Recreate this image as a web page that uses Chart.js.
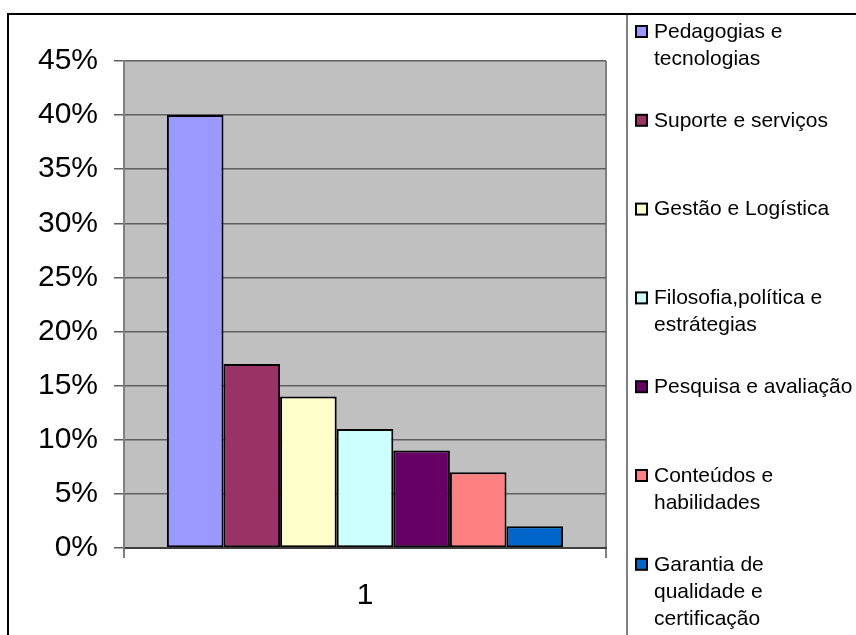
<!DOCTYPE html>
<html>
<head>
<meta charset="utf-8">
<title>Áreas</title>
<script src="https://cdn.jsdelivr.net/npm/chart.js@4/dist/chart.umd.min.js"></script>
<style>
  body { margin: 0; background: #fff; }
  canvas { display: block; }
</style>
</head>
<body>
<canvas id="myChart" width="856" height="635"></canvas>
<script>
const categories = ["1"];

const seriesNames = [
  ["Pedagogias e", "tecnologias"],
  ["Suporte e serviços"],
  ["Gestão e Logística"],
  ["Filosofia,política e", "estrátegias"],
  ["Pesquisa e avaliação"],
  ["Conteúdos e", "habilidades"],
  ["Garantia de", "qualidade e", "certificação"],
];

// percent for each area
const seriesValues = [40, 17, 14, 11, 9, 7, 2];

const seriesColors = [
  "#9999FF",
  "#993366",
  "#FFFFCC",
  "#CCFFFF",
  "#660066",
  "#FF8080",
  "#0066CC",
];

const yTicks = [0, 5, 10, 15, 20, 25, 30, 35, 40, 45];

const FONT = "'Liberation Sans', Arial, sans-serif";

// grey plot background + white page
const plotBg = {
  id: "plotBg",
  beforeDraw: (chart) => {
    const { ctx, chartArea, width, height } = chart;
    ctx.save();
    ctx.fillStyle = "#fff";
    ctx.fillRect(0, 0, width, height);
    ctx.fillStyle = "#C0C0C0";
    ctx.fillRect(chartArea.left, chartArea.top, chartArea.right - chartArea.left, chartArea.bottom - chartArea.top);
    ctx.restore();
  },
};

// outer frame, legend box and the legend itself
const sideLegend = {
  id: "sideLegend",
  afterDraw: (chart) => {
    const ctx = chart.ctx;
    ctx.save();
    ctx.strokeStyle = "#000";
    ctx.lineWidth = 2;
    ctx.strokeRect(8, 14, 900, 700);

    ctx.strokeStyle = "#808080";
    ctx.beginPath();
    ctx.moveTo(627, 15);
    ctx.lineTo(627, 635);
    ctx.stroke();

    ctx.font = "21px " + FONT;
    ctx.textBaseline = "middle";
    ctx.fillStyle = "#000";
    chart.data.datasets.forEach((ds, i) => {
      const y = 32 + i * 88.8;
      ctx.fillStyle = ds.backgroundColor;
      ctx.fillRect(636, y - 6, 11, 11);
      ctx.strokeStyle = "#000";
      ctx.lineWidth = 2;
      ctx.strokeRect(636, y - 6, 11, 11);
      ctx.fillStyle = "#000";
      ds.lines.forEach((line, k) => {
        ctx.fillText(line, 654, y + k * 27);
      });
    });
    ctx.restore();
  },
};

const ctx = document.getElementById("myChart");

new Chart(ctx, {
  type: "bar",
  data: {
    labels: categories,
    datasets: seriesNames.map((name, i) => ({
      label: name.join(" "),
      lines: name,
      data: [seriesValues[i]],
      backgroundColor: seriesColors[i],
      borderColor: "#000",
      borderWidth: 2,
      borderSkipped: false,
      barPercentage: 1,
      categoryPercentage: 0.822,
    })),
  },
  options: {
    responsive: false,
    animation: false,
    layout: { padding: { top: 61, right: 250, left: 0, bottom: 0 } },
    plugins: {
      legend: { display: false },
      tooltip: { enabled: false },
    },
    scales: {
      x: {
        grid: { color: "#808080", lineWidth: 2, tickLength: 10, offset: true },
        border: { color: "#404040", width: 2 },
        ticks: { color: "#000", font: { family: FONT, size: 30 }, padding: 20 },
        afterFit: (scale) => { scale.height = 87; },
      },
      y: {
        min: 0,
        max: 45,
        afterBuildTicks: (scale) => { scale.ticks = yTicks.map((v) => ({ value: v })); },
        grid: { color: "#5f5f5f", lineWidth: 1.5, tickLength: 10 },
        border: { color: "#808080", width: 2 },
        ticks: {
          color: "#000",
          font: { family: FONT, size: 30 },
          padding: 16,
          callback: (v) => v + "%",
        },
        afterFit: (scale) => { scale.width = 124; },
      },
    },
  },
  plugins: [plotBg, sideLegend],
});
</script>
</body>
</html>
